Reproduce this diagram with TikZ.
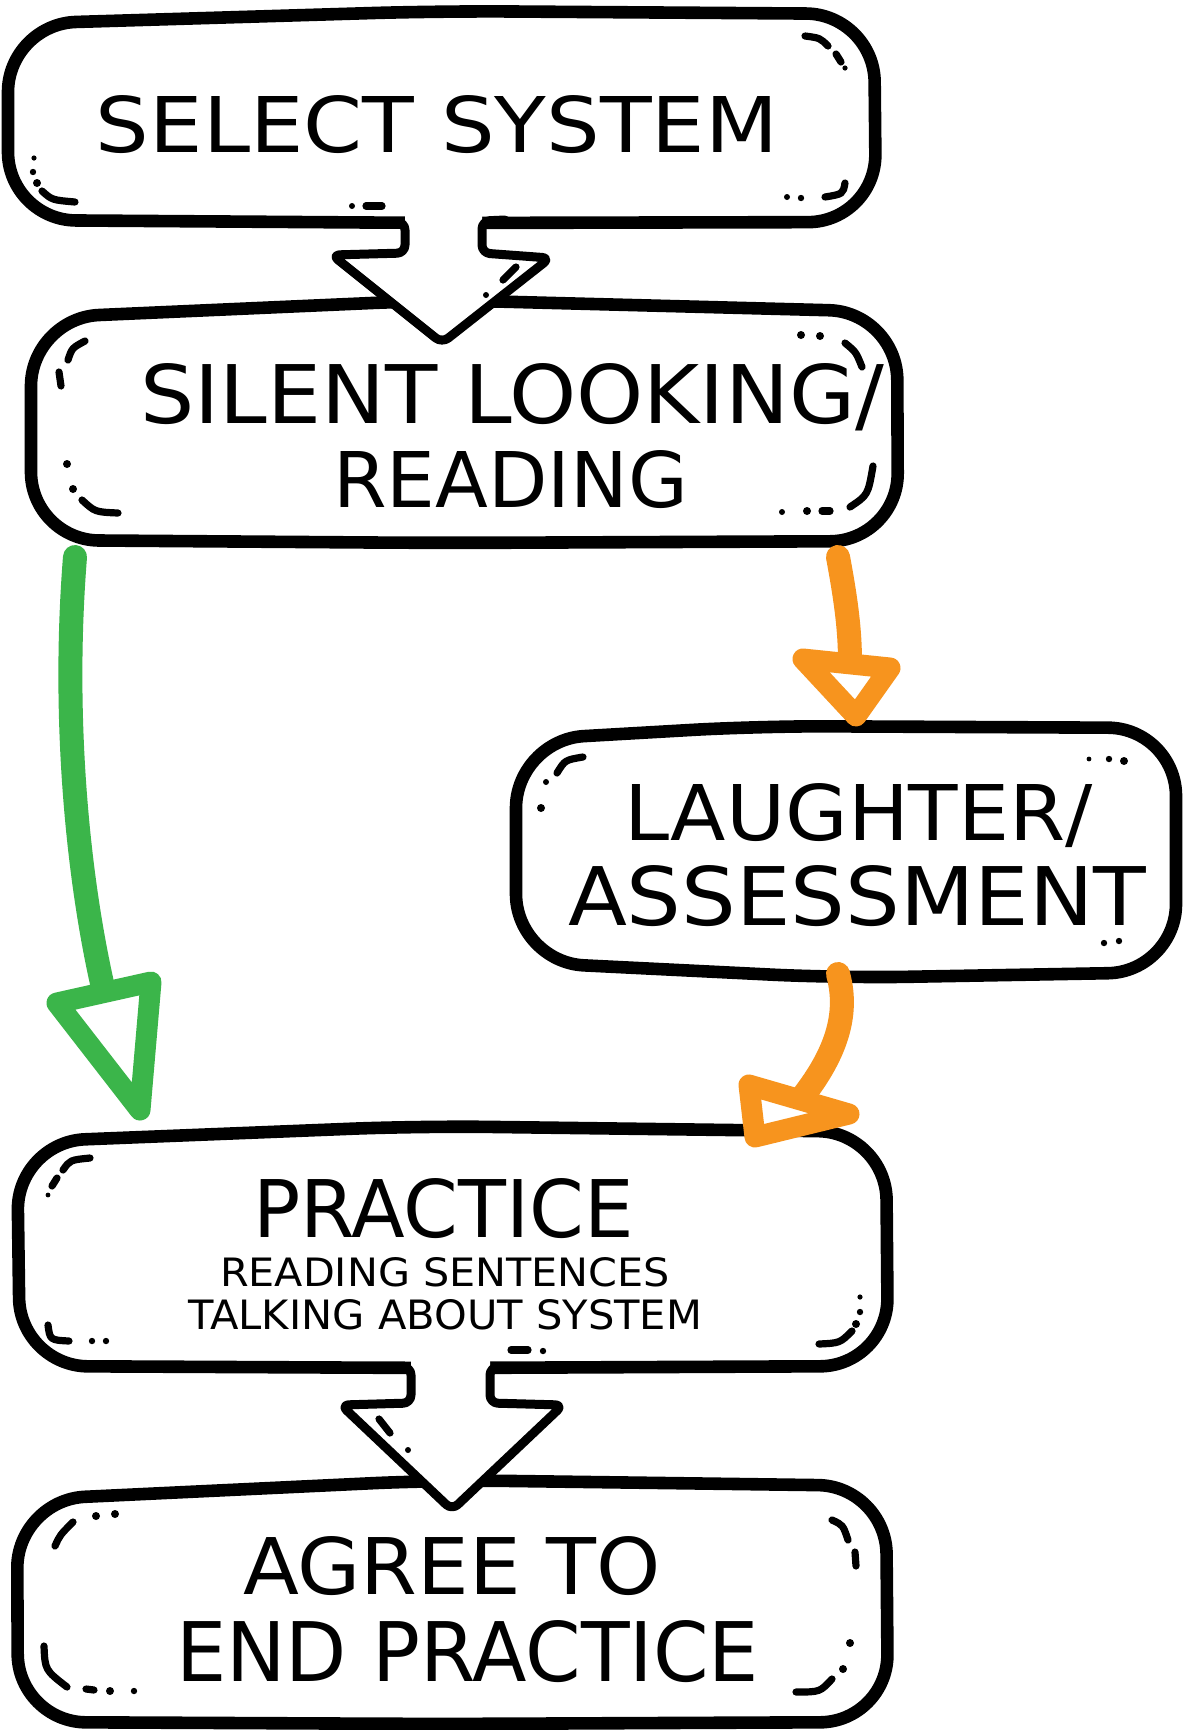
\documentclass[tikz,border=0pt]{standalone}
\usepackage{fontspec}
\setmainfont{DejaVu Sans}
\usepackage{graphicx}
\definecolor{grn}{RGB}{59,181,74}
\definecolor{org}{RGB}{247,148,30}
\newlength\pxu \setlength\pxu{0.5pt}
\newcommand\fitl[3]{\resizebox{#1\pxu}{#2\pxu}{#3}}
\begin{document}
\begin{tikzpicture}[x=0.5pt,y=-0.5pt,
  boxline/.style={draw=black, fill=white, line width=6.3pt, rounded corners=34pt, line join=round},
  blkfill/.style={fill=white, draw=none},
  blkline/.style={draw=black, line width=4.5pt, rounded corners=4pt, line join=round, line cap=round},
  mk/.style={draw=black, line width=3.6pt, line cap=round},
  garr/.style={draw=grn, line width=12pt, line cap=round, line join=round},
  oarr/.style={draw=org, line width=12pt, line cap=round, line join=round},
  ghead/.style={draw=grn, fill=white, line width=10.5pt, line join=round},
  ohead/.style={draw=org, fill=white, line width=10.5pt, line join=round},
  lbl/.style={anchor=base west, inner sep=0pt, outer sep=0pt, text=black}]
\useasboundingbox (0,0) rectangle (1184,1730);
\fill[white] (0,0) rectangle (1184,1730);

% ---------- boxes ----------
\draw[boxline] (8,24) -- (440,11) -- (874,14) -- (876,222) -- (440,223) -- (8,220) -- cycle;
\draw[boxline] (31,318) -- (440,300) -- (897,312) -- (898,541) -- (440,543) -- (31,540) -- cycle;
\draw[boxline] (516,740) -- (760,726) -- (1176,728) -- (1176,972) -- (840,978) -- (516,962) -- cycle;
\draw[boxline] (17,1142) -- (420,1126) -- (886,1132) -- (888,1366) -- (440,1368) -- (20,1366) -- cycle;
\draw[boxline] (17,1500) -- (440,1480) -- (886,1486) -- (888,1722) -- (440,1724) -- (18,1722) -- cycle;

% ---------- block arrow 1 ----------
\coordinate (a1s) at (443,222);
\coordinate (a1t) at (442,343);
\fill[blkfill] (405,212) -- (405,253) -- (332,255) -- (a1t) -- (550,258) -- (482,253) -- (482,212) -- cycle;
\draw[blkline] (385,222) -- (405,222) -- (405,253) -- (332,255) -- (a1t) -- (550,258) -- (482,253) -- (482,221) -- (505,220);
% ---------- block arrow 2 ----------
\coordinate (a2s) at (450,1367);
\coordinate (a2t) at (452,1510);
\fill[blkfill] (411,1358) -- (411,1403) -- (341,1405) -- (a2t) -- (563,1405) -- (490,1403) -- (490,1358) -- cycle;
\draw[blkline] (390,1367) -- (411,1367) -- (411,1403) -- (341,1405) -- (a2t) -- (563,1405) -- (490,1403) -- (490,1367) -- (512,1367);

% ---------- decorative marks ----------
% box 1
\fill (34,158) circle[radius=1.3pt]; \fill (33,172) circle[radius=1.6pt]; \fill (37,183) circle[radius=2pt];
\draw[mk] (42,191) .. controls (52,200) .. (75,202);
\draw[mk] (805,36) .. controls (820,38) .. (828,46); \draw[mk] (836,54) -- (841,62); \fill (845,68) circle[radius=1.3pt];
\fill (787,197) circle[radius=1.5pt]; \fill (801,198) circle[radius=1.6pt];
\draw[mk] (825,197) .. controls (843,194) .. (845,183);
\fill (352,206) circle[radius=1.5pt]; \draw[mk] (366,206) -- (382,206);
% arrow 1 marks
\draw[mk] (503,280) -- (516,267); \fill (486,295) circle[radius=1.5pt];
% box 2
\draw[mk] (68,360) .. controls (72,348) .. (85,341); \draw[mk] (59,372) -- (61,386);
\fill (67,464) circle[radius=2pt]; \fill (73,489) circle[radius=2pt];
\draw[mk] (82,500) .. controls (95,512) .. (118,513);
\fill (801,335) circle[radius=2pt]; \fill (820,336) circle[radius=2pt];
\draw[mk] (845,343) .. controls (856,352) .. (862,367);
\fill (782,512) circle[radius=1.5pt]; \fill (807,511) circle[radius=2pt]; \draw[mk] (822,511) -- (830,511);
\draw[mk] (850,507) .. controls (868,495) .. (873,466);
% box 3
\draw[mk] (557,773) .. controls (565,760) .. (583,757);
\fill (546,782) circle[radius=1.5pt]; \fill (541,808) circle[radius=2pt];
\fill (1089,759) circle[radius=1.2pt]; \fill (1109,759) circle[radius=1.6pt]; \fill (1124,761) circle[radius=2pt];
\fill (1104,943) circle[radius=1.6pt]; \fill (1119,941) circle[radius=1.6pt];
% box 4
\draw[mk] (63,1170) .. controls (70,1160) .. (90,1158); \draw[mk] (52,1186) -- (57,1178); \fill (48,1195) circle[radius=1.2pt];
\draw[mk] (48,1325) .. controls (50,1340) .. (69,1341);
\fill (92,1341) circle[radius=1.6pt]; \fill (106,1341) circle[radius=1.6pt];
\fill (860,1297) circle[radius=1.3pt]; \fill (860,1312) circle[radius=1.6pt]; \fill (856,1324) circle[radius=2pt];
\draw[mk] (852,1331) .. controls (840,1343) .. (819,1344);
\draw[mk] (511,1350) -- (528,1350); \fill (543,1351) circle[radius=1.6pt];
% arrow 2 marks
\draw[mk] (379,1419) -- (390,1433); \fill (408,1450) circle[radius=1.5pt];
% box 5
\fill (96,1516) circle[radius=2pt]; \fill (115,1514) circle[radius=2pt];
\draw[mk] (55,1546) .. controls (60,1535) .. (73,1522);
\draw[mk] (44,1646) .. controls (45,1670) .. (67,1687); \draw[mk] (86,1689) -- (94,1690);
\fill (110,1691) circle[radius=2pt]; \fill (134,1691) circle[radius=1.6pt];
\draw[mk] (832,1520) .. controls (843,1525) .. (848,1540); \draw[mk] (855,1552) -- (856,1566);
\fill (850,1643) circle[radius=2pt]; \fill (843,1669) circle[radius=2pt];
\draw[mk] (832,1679) .. controls (820,1692) .. (796,1692);

% ---------- coloured arrows ----------
\coordinate (g0) at (75,557);
\coordinate (g1) at (104,992);
\draw[garr] (g0) .. controls (62,720) and (78,880) .. (g1);
\draw[ghead] (57,1003) -- (151,982) -- (140,1110) -- cycle;

\coordinate (o0) at (838,557);
\coordinate (o1) at (850,662);
\draw[oarr] (o0) .. controls (846,600) and (850,630) .. (o1);
\draw[ohead] (803,659) -- (890,668) -- (856,716) -- cycle;

\coordinate (o2) at (838,974);
\coordinate (o3) at (800,1100);
\draw[oarr] (o2) .. controls (848,1010) and (840,1050) .. (o3);
\draw[ohead] (749,1085) -- (849,1114) -- (755,1137) -- cycle;

% ---------- texts ----------
\node[lbl] (t1) at (96,152) {\fitl{682}{57}{SELECT SYSTEM}};
\node[lbl] (t2a) at (140,423) {\fitl{744}{60}{SILENT LOOKING/}};
\node[lbl] (t2b) at (333,507) {\fitl{355}{57}{READING}};
\node[lbl] (t3a) at (624,840) {\fitl{469}{57}{LAUGHTER/}};
\node[lbl] (t3b) at (568,925) {\fitl{578}{60}{ASSESSMENT}};
\node[lbl] (t4a) at (253,1237) {\fitl{381}{59}{PRACTICE}};
\node[lbl] (t4b) at (220,1286) {\fitl{450}{29}{READING SENTENCES}};
\node[lbl] (t4c) at (188,1329) {\fitl{514}{30}{TALKING ABOUT SYSTEM}};
\node[lbl] (t5a) at (243,1594) {\fitl{418}{58}{AGREE TO}};
\node[lbl] (t5b) at (176,1681) {\fitl{583}{61}{END PRACTICE}};
\end{tikzpicture}
\end{document}
